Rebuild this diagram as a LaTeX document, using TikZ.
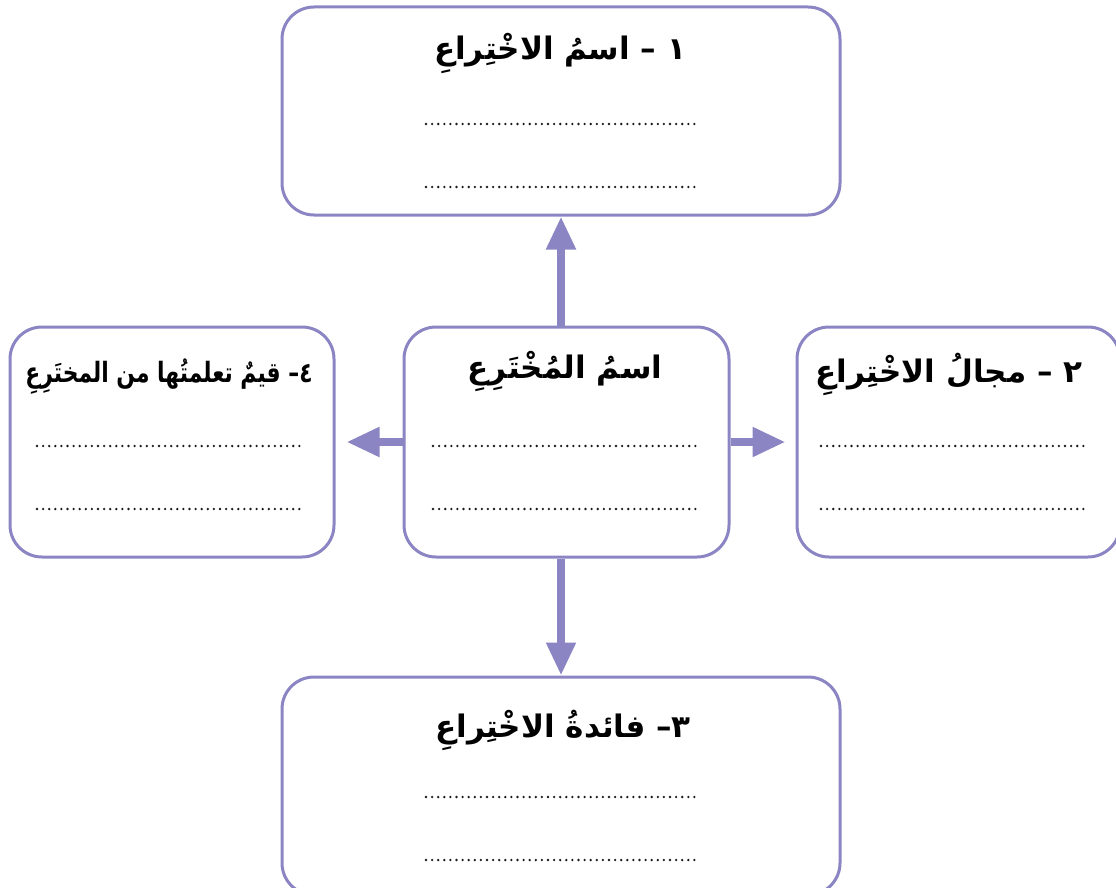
\documentclass[tikz,border=0pt]{standalone}
\usepackage{fontspec}
\usetikzlibrary{arrows.meta}
\TeXXeTstate=1
\newfontfamily\arabicfont[Script=Arabic]{DejaVu Sans}
\definecolor{boxc}{RGB}{139,133,196}
\definecolor{dotc}{RGB}{25,25,25}
\tikzset{
  box/.style={draw=boxc, line width=3pt, rounded corners=32pt, fill=white, inner sep=0pt},
  conn/.style={draw=boxc, line width=8pt, -{Triangle[length=33pt,width=28pt]}},
  dotline/.style={draw=dotc, line width=2.6pt, dash pattern=on 0pt off 6.1pt, line cap=round},
  ttl/.style={font=\arabicfont\bfseries\fontsize{31}{36}\selectfont, inner sep=0pt, anchor=base, text=black},
  ttlsmall/.style={ttl, font=\arabicfont\bfseries\fontsize{28}{34}\selectfont, xscale=0.78, transform shape},
}
\begin{document}
\begin{tikzpicture}[x=1pt,y=-1pt]
\useasboundingbox (0,0) rectangle (1116,888);
% boxes
\node[box, minimum width=558pt, minimum height=208pt] (top) at (561,111) {};
\node[box, minimum width=325pt, minimum height=230pt] (cen) at (566.5,442) {};
\node[box, minimum width=324pt, minimum height=230pt] (lft) at (172,442) {};
\node[box, minimum width=323pt, minimum height=230pt] (rgt) at (958.5,442) {};
\node[box, minimum width=558pt, minimum height=218pt] (bot) at (561,786) {};
% connectors
\draw[conn] (top.south |- cen.north) -- (top.south);
\draw[conn] (bot.north |- cen.south) -- (bot.north);
\draw[conn, shorten >=11pt] (cen.west) -- (lft.east);
\draw[conn, shorten >=10pt] (cen.east) -- (rgt.west);
% titles
\node[ttl] (topt) at (560,60) {\beginR ١ – اسمُ الاخْتِراعِ\endR};
\node[ttl] (cent) at (565,378) {\beginR اسمُ المُخْتَرِعِ\endR};
\node[ttlsmall] (lftt) at (169,382) {\beginR ٤\kern0pt– قيمٌ تعلمتُها من المختَرِعِ\endR};
\node[ttl] (rgtt) at (949,382) {\beginR ٢ – مجالُ الاخْتِراعِ\endR};
\node[ttl] (bott) at (563,737) {\beginR ٣\kern0pt– فائدةُ الاخْتِراعِ\endR};
% dotted answer lines
\draw[dotline] (426,124) -- (697,124);
\draw[dotline] (426,187) -- (697,187);
\draw[dotline] (433,446) -- (699,446);
\draw[dotline] (433,509) -- (699,509);
\draw[dotline] (37,446) -- (303,446);
\draw[dotline] (37,509) -- (303,509);
\draw[dotline] (821,446) -- (1087,446);
\draw[dotline] (821,509) -- (1087,509);
\draw[dotline] (426,797) -- (697,797);
\draw[dotline] (426,860) -- (697,860);
\end{tikzpicture}
\end{document}
